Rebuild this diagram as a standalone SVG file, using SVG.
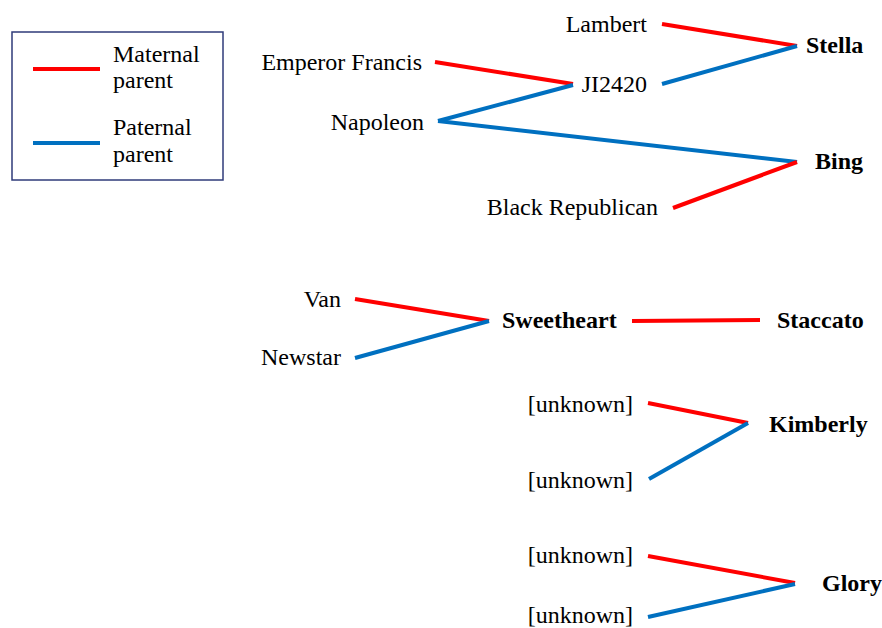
<svg xmlns="http://www.w3.org/2000/svg" width="882" height="628" viewBox="0 0 882 628">
<style>
text{font-family:"Liberation Serif","Times New Roman",Times,"Noto Serif","DejaVu Serif",serif;font-size:24px;fill:#000;font-weight:normal}
.p{text-anchor:end}
.c{font-weight:bold}
.m{stroke:#FF0000;stroke-width:4;fill:none}
.f{stroke:#0070C0;stroke-width:4;fill:none}
</style>
<rect width="882" height="628" fill="#fff"/>
<g id="legend">
<rect x="12" y="32" width="211" height="148" fill="#fff" stroke="#2F3B7A" stroke-width="1.5"/>
<line class="m" x1="33" y1="69" x2="100" y2="69"/>
<line class="f" x1="33" y1="143" x2="100" y2="143"/>
<text x="113" y="62">Maternal</text>
<text x="113" y="88">parent</text>
<text x="113" y="135">Paternal</text>
<text x="113" y="162">parent</text>
</g>
<g id="connectors">
<line class="m" x1="662" y1="24" x2="797" y2="46"/>
<line class="f" x1="662" y1="84" x2="797" y2="46"/>
<line class="m" x1="435" y1="62" x2="573" y2="84"/>
<line class="f" x1="438" y1="121" x2="573" y2="85"/>
<line class="f" x1="438" y1="121" x2="797" y2="162"/>
<line class="m" x1="673" y1="208" x2="797" y2="162"/>
<line class="m" x1="355" y1="299" x2="489" y2="321"/>
<line class="f" x1="355" y1="358" x2="489" y2="321"/>
<line class="m" x1="632" y1="321" x2="760" y2="320"/>
<line class="m" x1="648" y1="403" x2="748" y2="423"/>
<line class="f" x1="649" y1="479" x2="748" y2="423"/>
<line class="m" x1="648" y1="556" x2="795" y2="583"/>
<line class="f" x1="648" y1="617" x2="795" y2="584"/>
</g>
<g id="n-lambert"><text class="p" x="647" y="32">Lambert</text></g>
<g id="n-stella"><text class="c" x="806" y="53">Stella</text></g>
<g id="n-emperor-francis"><text class="p" x="422" y="70">Emperor Francis</text></g>
<g id="n-ji2420"><text class="p" x="647" y="92">JI2420</text></g>
<g id="n-napoleon"><text class="p" x="424" y="130">Napoleon</text></g>
<g id="n-bing"><text class="c" x="815" y="169">Bing</text></g>
<g id="n-black-republican"><text class="p" x="658" y="215">Black Republican</text></g>
<g id="n-van"><text class="p" x="341" y="307">Van</text></g>
<g id="n-newstar"><text class="p" x="341" y="365">Newstar</text></g>
<g id="n-sweetheart"><text class="c" x="502" y="328">Sweetheart</text></g>
<g id="n-staccato"><text class="c" x="777" y="328">Staccato</text></g>
<g id="n-unknown1"><text class="p" x="633" y="412">[unknown]</text></g>
<g id="n-kimberly"><text class="c" x="769" y="432">Kimberly</text></g>
<g id="n-unknown2"><text class="p" x="633" y="488">[unknown]</text></g>
<g id="n-unknown3"><text class="p" x="633" y="563">[unknown]</text></g>
<g id="n-glory"><text class="c" x="822" y="591">Glory</text></g>
<g id="n-unknown4"><text class="p" x="633" y="623">[unknown]</text></g>
</svg>
